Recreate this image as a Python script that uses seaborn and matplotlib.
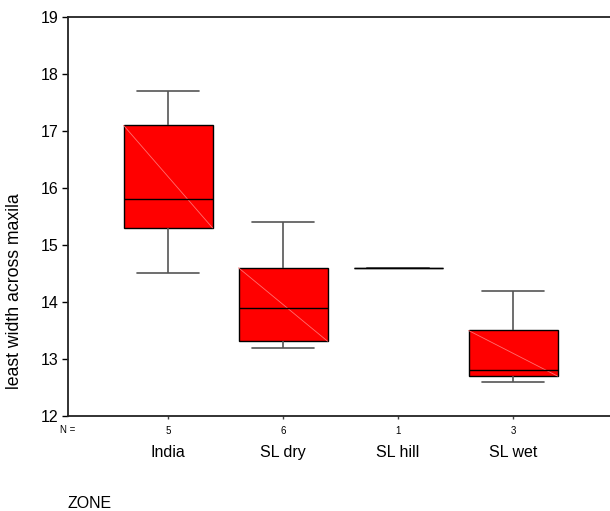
import numpy as np
import pandas as pd
import matplotlib
matplotlib.use("Agg")
import matplotlib.pyplot as plt
import matplotlib.transforms as mtransforms
import seaborn as sns

# Measurements per zone
zones = ["India", "SL dry", "SL hill", "SL wet"]
india = [14.5, 15.3, 15.8, 17.1, 17.7]
sl_dry = [13.2, 13.25, 13.5, 14.3, 14.7, 15.4]
sl_hill = [14.6]
sl_wet = [12.6, 12.8, 14.2]
y_ticks = [12, 13, 14, 15, 16, 17, 18, 19]

groups = [india, sl_dry, sl_hill, sl_wet]
df = pd.DataFrame({
    "ZONE": np.repeat(zones, [len(g) for g in groups]),
    "value": np.concatenate(groups),
})

sns.set_theme(style="ticks")
plt.rcParams["font.family"] = ["Liberation Sans", "DejaVu Sans"]
plt.rcParams["text.color"] = "black"
plt.rcParams["xtick.color"] = "black"
plt.rcParams["ytick.color"] = "black"

fig = plt.figure(figsize=(6.10, 5.11), dpi=100)
ax = fig.add_axes([68 / 610, 95 / 511, 542 / 610, 399 / 511])

box_w = 0.774
sns.boxplot(
    data=df, x="ZONE", y="value", order=zones, ax=ax,
    width=box_w, color="#ff0000", saturation=1, whis=1.5,
    linecolor="black", linewidth=1.0,
    boxprops=dict(facecolor="#ff0000", edgecolor="black", linewidth=1.0),
    medianprops=dict(color="black", linewidth=1.0, zorder=4),
    whiskerprops=dict(color="#555555", linewidth=1.2),
    capprops=dict(color="#555555", linewidth=1.2),
    capwidths=0.54,
)

# thin diagonal across each box face
for i, g in enumerate(groups):
    q1, q3 = np.percentile(g, [25, 75])
    if q3 > q1:
        ax.plot([i - box_w / 2, i + box_w / 2], [q3, q1],
                color="#ff7070", lw=0.6, zorder=3)

ax.set_xlim(-0.8696, 3.843)
ax.set_ylim(12, 19)
ax.set_yticks(y_ticks)
ax.set_yticklabels([str(t) for t in y_ticks], fontsize=11.5)
ax.tick_params(axis="y", length=4, width=1, color="black", pad=3)

counts = [len(g) for g in groups]
ax.set_xticks(range(len(zones)))
ax.set_xticklabels([str(c) for c in counts], fontsize=7)
ax.tick_params(axis="x", length=2.5, width=1, color="#444444", pad=4.5)

trans = mtransforms.blended_transform_factory(ax.transData, ax.transAxes)
for i, z in enumerate(zones):
    ax.text(i, -0.091, z, transform=trans, ha="center", va="center", fontsize=11.5)
ax.text(-0.8696, -0.036, "N =", transform=trans, ha="center", va="center", fontsize=7)

ax.set_xlabel("")
ax.set_ylabel("")
fig.text(15 / 610, 1 - 291 / 511, "least width across maxila", rotation=90,
         ha="center", va="center", fontsize=12.7)
fig.text(68 / 610, 1 - 503 / 511, "ZONE", ha="left", va="center", fontsize=11.5)

for side in ["left", "bottom", "top"]:
    ax.spines[side].set_visible(True)
    ax.spines[side].set_color("#222222")
    ax.spines[side].set_linewidth(1.3)
ax.spines["right"].set_visible(False)

fig.savefig("out.png", dpi=100, facecolor="white")
